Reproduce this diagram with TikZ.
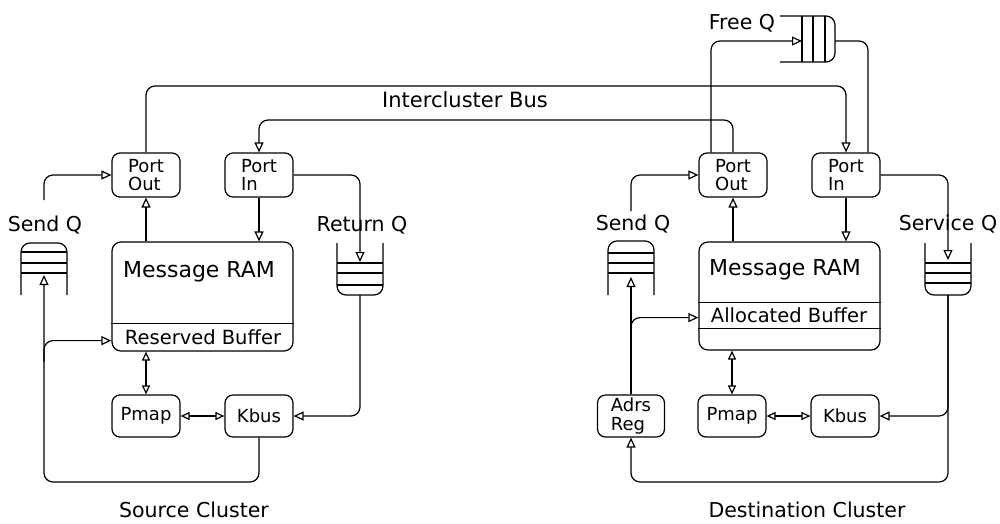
\documentclass[tikz,border=0pt]{standalone}
\usepackage{fontspec}
\setmainfont{DejaVu Sans}
\usetikzlibrary{arrows.meta}
\begin{document}
\begin{tikzpicture}[x=1pt,y=-1pt, line width=1.2pt,
 every node/.style={font=\fontsize{18}{18.5}\selectfont},
 box/.style={draw, rounded corners=8pt, minimum width=68pt, minimum height=44pt, inner sep=0pt, align=left},
 smallbox/.style={box, minimum height=42pt},
 rambox/.style={draw, rounded corners=9pt, minimum width=181pt, minimum height=109pt, inner sep=0pt},
 conn/.style={rounded corners=9pt},
 tip/.style={-{Triangle[open,length=10pt,width=9pt]}},
 dtip/.style={{Triangle[open,length=9pt,width=8pt]}-{Triangle[open,length=9pt,width=8pt]}},
 lbl/.style={font=\fontsize{20.5}{20.5}\selectfont, inner sep=0pt},
 queue/.style={rounded corners=9pt},
]
\useasboundingbox (0,0) rectangle (1000,523);

% ---------- Source cluster ----------
\node[box] (pout1) at (146,175) {Port\\Out};
\node[box] (pin1) at (259,175) {Port\\In};
\node[rambox] (ram1) at (202.5,296.5) {};
\node[lbl, font=\fontsize{22}{22}\selectfont] (msg1) at (199,272) {Message RAM};
\draw ([yshift=28pt]ram1.south west) -- ([yshift=28pt]ram1.south east);
\node[lbl, font=\fontsize{19.5}{19.5}\selectfont] (res1) at (203,337) {Reserved Buffer};
\node[smallbox] (pmap1) at (146,416) {Pmap};
\node[smallbox] (kbus1) at (259,416) {Kbus};

\node[lbl] (sendlbl1) at (45,225) {Send Q};
\node[lbl] (retlbl) at (362,225) {Return Q};
\node[lbl] (srclbl) at (194,510) {Source Cluster};

% Send Q (source)
\draw[queue] (21,295) -- (21,243) -- (67,243) -- (67,295);
\foreach \yy in {252,263,273} \draw (21,\yy) -- (67,\yy);
% Return Q
\draw[queue] (337,243) -- (337,295) -- (383,295) -- (383,243);
\foreach \yy in {263,273,285} \draw (337,\yy) -- (383,\yy);

\coordinate (sq1out) at (44,200);
\coordinate (sq1in) at (44,275);
\coordinate (rq1in) at (360,262);
\coordinate (rq1out) at (360,295);
\coordinate (bot1) at (150,482);
\coordinate (br1) at (44,362);
\coordinate (rb1) at ([yshift=11pt]ram1.south west);

% ---------- Destination cluster ----------
\node[box] (pout2) at (733,175) {Port\\Out};
\node[box] (pin2) at (846,175) {Port\\In};
\node[rambox, minimum height=108pt] (ram2) at (789.5,296) {};
\node[lbl, font=\fontsize{22}{22}\selectfont] (msg2) at (785,270) {Message RAM};
\draw ([yshift=48pt]ram2.south west) -- ([yshift=48pt]ram2.south east);
\draw ([yshift=22pt]ram2.south west) -- ([yshift=22pt]ram2.south east);
\node[lbl, font=\fontsize{19.5}{19.5}\selectfont] (alloc) at (789,315) {Allocated Buffer};
\node[smallbox, minimum width=67pt] (adrs) at (631,416) {Adrs\\Reg};
\node[smallbox] (pmap2) at (732,416) {Pmap};
\node[smallbox] (kbus2) at (845,416) {Kbus};

\node[lbl] (sendlbl2) at (633,224) {Send Q};
\node[lbl] (servlbl) at (948,224) {Service Q};
\node[lbl] (freelbl) at (742,23) {Free Q};
\node[lbl] (dstlbl) at (807,510) {Destination Cluster};
\node[lbl, font=\fontsize{21}{21}\selectfont] (buslbl) at (465,100) {Intercluster Bus};

% Send Q (destination)
\draw[queue] (608,295) -- (608,241) -- (654,241) -- (654,295);
\foreach \yy in {253,263,273} \draw (608,\yy) -- (654,\yy);
% Service Q
\draw[queue] (925,243) -- (925,295) -- (971,295) -- (971,243);
\foreach \yy in {263,273,283} \draw (925,\yy) -- (971,\yy);
% Free Q
\draw[queue] (780,16) -- (835,16) -- (835,62) -- (780,62);
\foreach \xx in {802,813,825} \draw (\xx,16) -- (\xx,62);

\coordinate (fqin) at (802,41);
\coordinate (fqout) at (835,41);
\coordinate (sq2out) at (631,211);
\coordinate (sq2in) at (631,277);
\coordinate (svin) at (948,260);
\coordinate (svout) at (948,295);
\coordinate (bot2) at (800,482);
\coordinate (br2) at (631,335);
\coordinate (rb2) at ([yshift=33pt]ram2.south west);

% ---------- Bus ----------
\coordinate (busA) at (500,86);
\coordinate (busB) at (500,120);
\draw[conn,tip] (pout1.north) |- (busA) -| (pin2.north);
\draw[conn,tip] (pout2.north) |- (busB) -| (pin1.north);

% ---------- Source connectors ----------
\draw[conn,tip] (sq1out) |- (pout1.west);
\draw[tip] (pout1.south |- ram1.north) -- (pout1.south);
\draw[tip] (pin1.south) -- (pin1.south |- ram1.north);
\draw[conn,tip] (pin1.east) -| (rq1in);
\draw[conn,tip] (rq1out) |- (kbus1.east);
\draw[dtip] (pmap1.east) -- (kbus1.west);
\draw[dtip] (pmap1.north |- ram1.south) -- (pmap1.north);
\draw[conn,tip] (kbus1.south) |- (bot1) -| (sq1in);
\draw[conn,tip] (br1) |- (rb1);

% ---------- Destination connectors ----------
\draw[conn,tip] (sq2out) |- (pout2.west);
\draw[tip] (pout2.south |- ram2.north) -- (pout2.south);
\draw[tip] (pin2.south) -- (pin2.south |- ram2.north);
\draw[conn,tip] ([xshift=-22pt]pout2.north) |- (fqin);
\draw[conn] (fqout) -| ([xshift=22pt]pin2.north);
\draw[conn,tip] (pin2.east) -| (svin);
\draw[conn,tip] (svout) |- (kbus2.east);
\draw[conn,tip] (svout) |- (bot2) -| (adrs.south);
\draw[dtip] (pmap2.east) -- (kbus2.west);
\draw[dtip] (pmap2.north |- ram2.south) -- (pmap2.north);
\draw[tip] (adrs.north) -- (sq2in);
\draw[conn,tip] (br2) |- (rb2);
\end{tikzpicture}
\end{document}
